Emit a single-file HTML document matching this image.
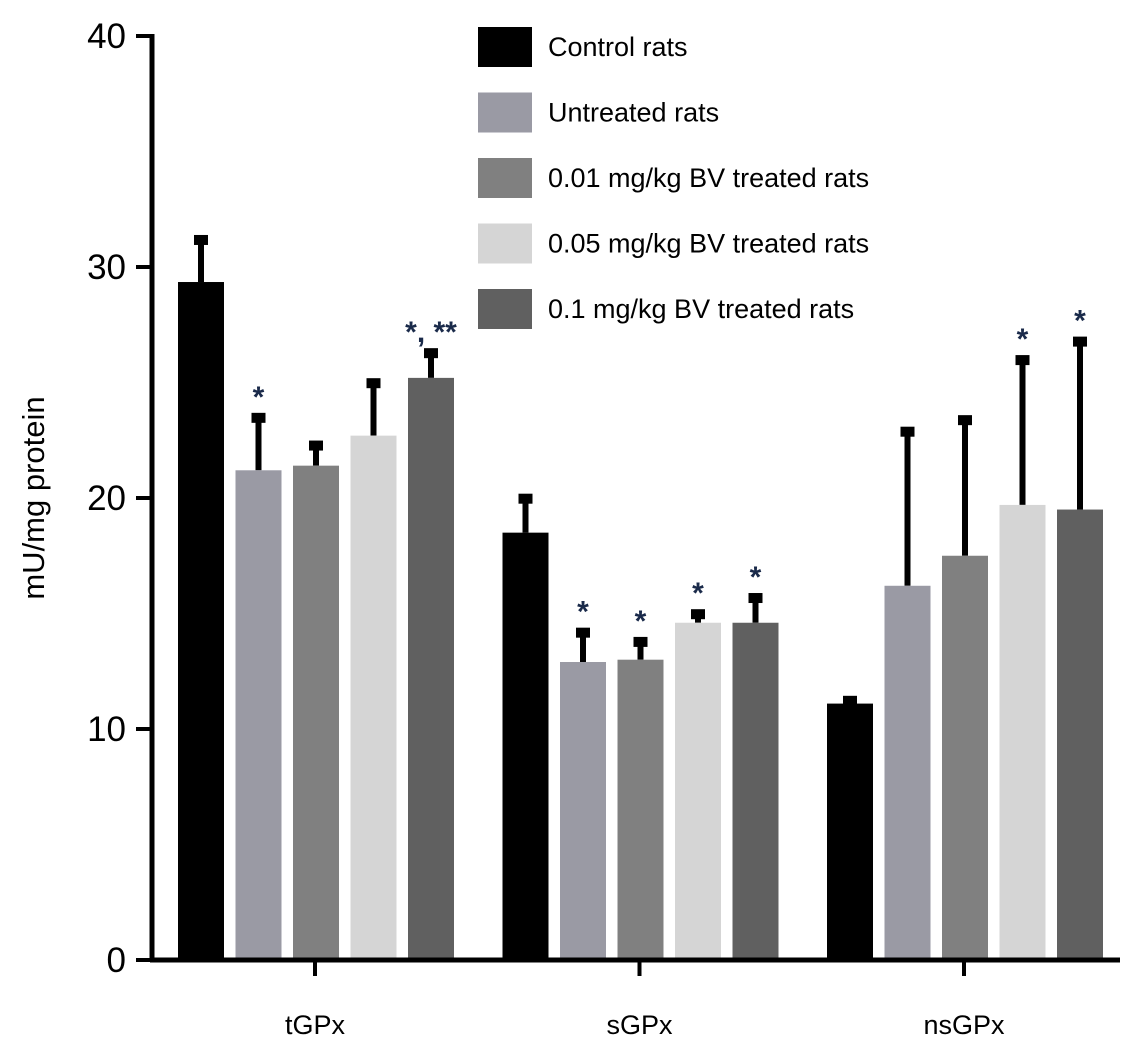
<!DOCTYPE html>
<html><head><meta charset="utf-8"><style>
body{margin:0;background:#fff;}
svg{display:block;font-family:"Liberation Sans",Arial,sans-serif;}
</style></head><body>
<svg id="chart" width="1146" height="1048"></svg>
<script>
const categories=["tGPx","sGPx","nsGPx"];
const seriesNames=["Control rats","Untreated rats","0.01 mg/kg BV treated rats","0.05 mg/kg BV treated rats","0.1 mg/kg BV treated rats"];
const seriesColors=["#000000","#9a9aa4","#808080","#d5d5d5","#606060"];
const control=[29.35,18.5,11.1];
const untreated=[21.2,12.9,16.2];
const bv001=[21.4,13.0,17.5];
const bv005=[22.7,14.6,19.7];
const bv01=[25.2,14.6,19.5];
const controlErr=[31.3,20.1,11.35];
const untreatedErr=[23.6,14.3,23.0];
const bv001Err=[22.4,13.9,23.5];
const bv005Err=[25.1,15.1,26.1];
const bv01Err=[26.4,15.8,26.9];
const sigLabels=[["","*","","","*, **"],["","*","*","*","*"],["","","","*","*"]];
const yTicks=[0,10,20,30,40];

const values=[control,untreated,bv001,bv005,bv01];
const errs=[controlErr,untreatedErr,bv001Err,bv005Err,bv01Err];
const svg=document.getElementById('chart');
const NS="http://www.w3.org/2000/svg";
const y=v=>960-v*23.1;
const groupX=i=>315+i*324.5;
const barX=(g,s)=>groupX(g)-137+s*57.5;
function mk(tag,attrs,parent){const e=document.createElementNS(NS,tag);for(const k in attrs)e.setAttribute(k,attrs[k]);(parent||svg).appendChild(e);return e;}

categories.forEach((c,g)=>{
  values.forEach((arr,s)=>{
    const x=barX(g,s), v=arr[g], ev=errs[s][g];
    const cx=x+23;
    const el=mk('line',{x1:cx,x2:cx,y1:y(v),y2:y(ev)+2,stroke:'#000','stroke-width':6});
    
    
    const cap=mk('rect',{x:cx-7,y:y(ev)-2,width:14,height:10,fill:'#000'});
    
    
    const r=mk('rect',{x:x,y:y(v),width:46,height:960-y(v),fill:seriesColors[s]});
    
    
    const lab=sigLabels[g][s];
    if(lab){
      const t=mk('text',{x:cx,y:y(ev)-8,'text-anchor':'middle','font-size':30,'font-weight':'bold',fill:'#1a2a4a'});
      t.textContent=lab;
      
      
    }
  });
  const tk=mk('line',{x1:groupX(g),x2:groupX(g),y1:960,y2:976,stroke:'#000','stroke-width':4});
  
  
  const t=mk('text',{x:groupX(g),y:1034,'text-anchor':'middle','font-size':27,fill:'#000'});
  t.textContent=c;
  
  
});

yTicks.forEach(v=>{
  const l=mk('line',{x1:136,x2:152,y1:y(v),y2:y(v),stroke:'#000','stroke-width':4});
  
  
  const t=mk('text',{x:126,y:y(v)+12,'text-anchor':'end','font-size':35,fill:'#000'});
  t.textContent=v;
  
  
});
const ya=mk('line',{x1:152,x2:152,y1:34,y2:962,stroke:'#000','stroke-width':5});


const xa=mk('line',{x1:150,x2:1120,y1:960,y2:960,stroke:'#000','stroke-width':5});


const yt=mk('text',{x:0,y:0,transform:'translate(44,498) rotate(-90)','text-anchor':'middle','font-size':31,fill:'#000'});
yt.textContent='mU/mg protein';



seriesNames.forEach((n,i)=>{
  const cy=47+i*65.5;
  const sw=mk('rect',{x:478,y:cy-20,width:54,height:40,fill:seriesColors[i]});
  
  
  const t=mk('text',{x:548,y:cy+9,'font-size':27,fill:'#000'});
  t.textContent=n;
  
  
});
</script>
</body></html>
